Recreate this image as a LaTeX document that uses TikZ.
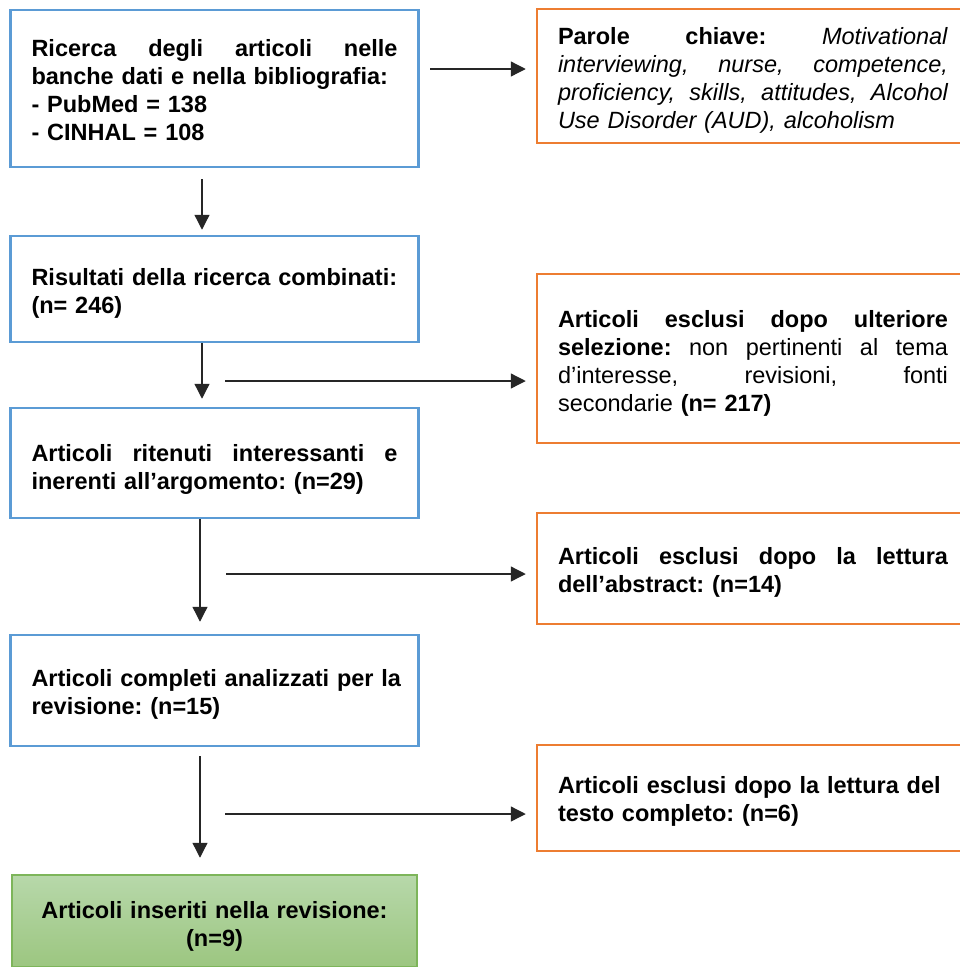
\documentclass[tikz,border=0pt]{standalone}
\usepackage{fontspec}
\setmainfont{Liberation Sans}
\usetikzlibrary{arrows.meta}
\definecolor{bblue}{HTML}{5B9BD5}
\definecolor{borange}{HTML}{ED7D31}
\definecolor{ggreen}{HTML}{7DB55A}
\definecolor{gtop}{HTML}{B7D8AA}
\definecolor{gbot}{HTML}{9CC680}
\newcommand\jst[1]{\noindent\hbox to\hsize{#1}\par}
\newcommand\lft[1]{\noindent\hbox to\hsize{#1\hfil}\par}
\newcommand\ctr[1]{\noindent\hbox to\hsize{\hfil#1\hfil}\par}
\frenchspacing
\tikzset{
  base/.style={rectangle, line width=2.5pt, inner xsep=21pt, inner ysep=0pt,
    font=\fontsize{23.5}{28}\selectfont\frenchspacing, anchor=center},
  bf/.style={font=\fontsize{23.5}{28}\selectfont\bfseries\frenchspacing},
  bluebox/.style={base, bf, draw=bblue, text width=366pt, minimum width=408pt},
  orbox/.style={base, draw=borange, text width=390pt, minimum width=432pt},
  grbox/.style={base, bf, draw=ggreen, top color=gtop, bottom color=gbot,
    text width=363pt, minimum width=405pt},
  arr/.style={-{Triangle[length=15pt,width=15pt]}, line width=1.3pt, draw=black!85},
}
\begin{document}
\begin{tikzpicture}[x=1pt,y=-1pt]
\useasboundingbox (0,0) rectangle (959,967);
\fill[white] (0,0) rectangle (959,967);

% left column
\node[bluebox, minimum height=157pt, text height=21pt] (b1) at (214.5,88.5) {%
  \jst{Ricerca\hfill degli\hfill articoli\hfill nelle}%
  \lft{banche dati e nella bibliografia:}%
  \lft{- PubMed = 138}%
  \lft{- CINHAL = 108}};
\node[bluebox, minimum height=106pt, text height=25pt] (b2) at (214.5,289) {%
  \lft{Risultati della ricerca combinati:}%
  \lft{(n= 246)}};
\node[bluebox, minimum height=110pt, text height=29pt] (b3) at (214.5,463) {%
  \jst{Articoli\hfill ritenuti\hfill interessanti\hfill e}%
  \lft{inerenti all’argomento: (n=29)}};
\node[bluebox, minimum height=111pt, text height=24pt] (b4) at (214.5,690.5) {%
  \lft{Articoli completi analizzati per la}%
  \lft{revisione: (n=15)}};
\node[grbox, minimum height=92pt, text height=27pt] (g) at (214.5,921) {%
  \ctr{Articoli inseriti nella revisione:}%
  \ctr{(n=9)}};

% right column
\node[orbox, minimum height=134pt, text height=25pt] (o1) at (753,76) {%
  \jst{\textbf{Parole}\hfill\textbf{chiave:}\hfill\textit{Motivational}}%
  \jst{\itshape interviewing,\hfill nurse,\hfill competence,}%
  \jst{\itshape proficiency,\hfill skills,\hfill attitudes,\hfill Alcohol}%
  \lft{\itshape Use Disorder (AUD), alcoholism}};
\node[orbox, minimum height=169pt, text height=27pt] (o2) at (753,358.5) {%
  \jst{\bfseries Articoli\hfill esclusi\hfill dopo\hfill ulteriore}%
  \jst{\textbf{selezione:}\hfill non\hfill pertinenti\hfill al\hfill tema}%
  \jst{d’interesse,\hfill revisioni,\hfill fonti}%
  \lft{secondarie \textbf{(n= 217)}}};
\node[orbox, bf, minimum height=111pt, text height=25pt] (o3) at (753,568.5) {%
  \jst{Articoli\hfill esclusi\hfill dopo\hfill la\hfill lettura}%
  \lft{dell’abstract: (n=14)}};
\node[orbox, bf, minimum height=106pt, text height=23pt] (o4) at (753,798) {%
  \lft{Articoli esclusi dopo la lettura del}%
  \lft{testo completo: (n=6)}};

% vertical arrows
\coordinate (va) at (202,0);
\coordinate (vb) at (200,0);
\draw[arr, shorten <=11pt, shorten >=5pt] (va |- b1.south) -- (va |- b2.north);
\draw[arr, shorten >=8pt] (va |- b2.south) -- (va |- b3.north);
\draw[arr, shorten >=12pt] (vb |- b3.south) -- (vb |- b4.north);
\draw[arr, shorten <=9pt, shorten >=16pt] (vb |- b4.south) -- (vb |- g.north);

% horizontal arrows
\coordinate (h1) at (430,69);
\coordinate (h2) at (225,381);
\coordinate (h3) at (226,574);
\coordinate (h4) at (225,814);
\draw[arr, shorten >=10pt] (h1) -- (h1 -| o1.west);
\draw[arr, shorten >=10pt] (h2) -- (h2 -| o2.west);
\draw[arr, shorten >=10pt] (h3) -- (h3 -| o3.west);
\draw[arr, shorten >=10pt] (h4) -- (h4 -| o4.west);
\end{tikzpicture}
\end{document}
